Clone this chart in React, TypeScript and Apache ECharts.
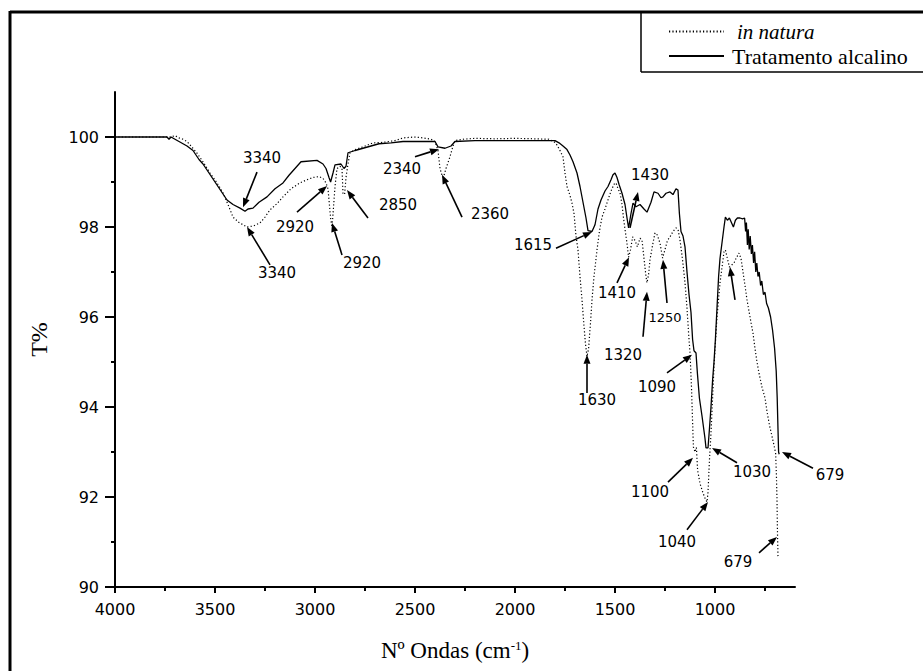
import React, { useEffect, useRef } from "react";
import * as echarts from "echarts";

// ---- Data (wavenumber cm-1, T%) ----
const seriesNames = ["in natura", "Tratamento alcalino"];

const inNatura: [number, number][] = [
  [4000, 100], [3720, 100], [3700, 100.03], [3680, 99.98], [3660, 99.95], [3640, 99.9],
  [3620, 99.8], [3590, 99.64], [3560, 99.45], [3525, 99.2], [3490, 98.98], [3460, 98.76],
  [3435, 98.5], [3410, 98.22], [3380, 98.1], [3340, 98.0], [3310, 98.02], [3275, 98.09],
  [3250, 98.22], [3225, 98.38], [3190, 98.52], [3160, 98.67], [3120, 98.85], [3075, 98.98],
  [3040, 99.05], [3010, 99.1], [2980, 99.12], [2960, 99.08], [2945, 98.98], [2935, 98.85],
  [2928, 98.5], [2922, 98.2], [2915, 98.0], [2908, 98.4], [2900, 98.9], [2890, 99.3],
  [2875, 99.35], [2865, 99.3], [2860, 98.75], [2852, 98.72], [2845, 99.1], [2835, 99.4],
  [2825, 99.65], [2800, 99.72], [2760, 99.78], [2710, 99.87], [2660, 99.88], [2600, 99.92],
  [2560, 99.98], [2500, 100.0], [2460, 99.98], [2420, 99.95], [2400, 99.9], [2385, 99.7],
  [2375, 99.3], [2365, 99.15], [2358, 99.1], [2345, 99.3], [2325, 99.56], [2310, 99.8],
  [2300, 99.92], [2260, 99.95], [2200, 99.97], [2100, 99.96], [2000, 99.97], [1900, 99.96],
  [1830, 99.95], [1800, 99.88], [1790, 99.82], [1775, 99.7], [1760, 99.56], [1750, 99.2],
  [1740, 98.9], [1725, 98.7], [1715, 98.53], [1705, 98.3], [1695, 97.8], [1685, 97.49],
  [1675, 96.9], [1665, 96.38], [1655, 95.8], [1648, 95.42], [1640, 95.12], [1632, 95.3],
  [1622, 95.9], [1615, 96.38], [1605, 96.9], [1590, 97.49], [1578, 97.9], [1565, 98.22],
  [1550, 98.4], [1535, 98.6], [1520, 98.8], [1505, 98.95], [1495, 98.98], [1485, 98.85],
  [1475, 98.76], [1465, 98.5], [1458, 98.22], [1450, 97.95], [1440, 97.64], [1432, 97.33],
  [1422, 97.5], [1412, 97.78], [1400, 97.7], [1388, 97.56], [1375, 97.75], [1365, 97.71],
  [1355, 97.3], [1345, 96.9], [1340, 96.76], [1332, 96.95], [1325, 97.27], [1312, 97.6],
  [1300, 97.87], [1288, 97.82], [1275, 97.64], [1262, 97.31], [1250, 97.5], [1238, 97.7],
  [1225, 97.78], [1210, 97.9], [1195, 97.98], [1185, 97.95], [1175, 97.71], [1163, 97.3],
  [1150, 96.76], [1140, 96.2], [1132, 95.64], [1125, 95.2], [1118, 94.5], [1113, 93.8],
  [1108, 93.11], [1100, 93.0], [1093, 93.1], [1087, 92.6], [1075, 92.3], [1060, 92.09],
  [1048, 91.95], [1040, 91.89], [1035, 92.1], [1028, 92.8], [1020, 93.42], [1012, 94.2],
  [1005, 94.89], [997, 95.5], [990, 96.0], [982, 96.4], [975, 96.76], [965, 97.1],
  [955, 97.45], [948, 97.49], [938, 97.3], [928, 97.11], [918, 97.15], [905, 97.2],
  [895, 97.3], [880, 97.42], [870, 97.3], [860, 97.0], [850, 96.7], [840, 96.38],
  [825, 96.0], [810, 95.64], [800, 95.3], [790, 95.0], [780, 94.75], [765, 94.44],
  [750, 94.2], [740, 93.9], [728, 93.6], [715, 93.35], [705, 93.15], [697, 92.98],
  [693, 92.5], [690, 91.93], [688, 91.3], [685, 90.67],
];

const alcalino: [number, number][] = [
  [4000, 100], [3740, 100], [3730, 99.95], [3720, 100], [3700, 99.95], [3680, 99.9],
  [3660, 99.85], [3640, 99.8], [3610, 99.7], [3580, 99.5], [3560, 99.4], [3530, 99.2],
  [3500, 99.0], [3470, 98.8], [3440, 98.6], [3410, 98.5], [3375, 98.42], [3350, 98.35],
  [3335, 98.4], [3310, 98.42], [3280, 98.55], [3240, 98.67], [3200, 98.85], [3160, 98.98],
  [3130, 99.15], [3100, 99.3], [3070, 99.45], [2990, 99.48], [2960, 99.4], [2945, 99.3],
  [2930, 99.1], [2922, 99.0], [2910, 99.2], [2900, 99.38], [2870, 99.4], [2855, 99.3],
  [2845, 99.35], [2835, 99.65], [2800, 99.7], [2760, 99.75], [2720, 99.8], [2680, 99.85],
  [2620, 99.87], [2560, 99.9], [2400, 99.9], [2385, 99.78], [2350, 99.75], [2320, 99.8],
  [2300, 99.9], [2200, 99.92], [2000, 99.92], [1800, 99.92], [1780, 99.87], [1760, 99.8],
  [1740, 99.72], [1725, 99.6], [1710, 99.45], [1690, 99.2], [1675, 98.9], [1660, 98.55],
  [1645, 98.2], [1635, 97.92], [1615, 97.9], [1600, 98.05], [1585, 98.4], [1570, 98.6],
  [1550, 98.8], [1535, 98.9], [1520, 99.05], [1510, 99.16], [1500, 99.2], [1490, 99.1],
  [1480, 98.95], [1465, 98.75], [1450, 98.5], [1440, 98.2], [1432, 97.98], [1420, 98.3],
  [1410, 98.53], [1395, 98.45], [1375, 98.5], [1355, 98.4], [1340, 98.33], [1320, 98.55],
  [1305, 98.78], [1285, 98.75], [1270, 98.65], [1260, 98.67], [1245, 98.75], [1225, 98.78],
  [1210, 98.72], [1195, 98.85], [1185, 98.82], [1178, 98.3], [1170, 97.9], [1160, 97.8],
  [1150, 97.56], [1140, 97.0], [1130, 96.5], [1120, 96.1], [1112, 95.5], [1105, 95.25],
  [1095, 95.2], [1088, 94.75], [1078, 94.2], [1065, 93.8], [1050, 93.3], [1045, 93.09],
  [1035, 93.09], [1028, 93.5], [1020, 94.0], [1012, 94.6], [1005, 95.0], [998, 95.5],
  [990, 96.2], [982, 96.9], [975, 97.3], [965, 97.65], [955, 98.0], [948, 98.22],
  [938, 98.15], [928, 98.2], [918, 98.1], [908, 98.0], [898, 98.15], [888, 98.2],
  [875, 98.2], [862, 98.18], [852, 98.2], [847, 97.9], [843, 98.1], [838, 97.6],
  [834, 97.95], [829, 97.5], [824, 97.8], [818, 97.4], [813, 97.6], [807, 97.2],
  [802, 97.45], [796, 97.0], [791, 97.2], [785, 96.9], [779, 97.0], [772, 96.7],
  [766, 96.8], [758, 96.5], [750, 96.55], [742, 96.3], [733, 96.2], [722, 96.0],
  [712, 95.7], [702, 95.3], [694, 94.8], [689, 94.2], [685, 93.5], [682, 93.0],
  [679, 92.95],
];

// ---- Axis ticks ----
const xMajorTicks = [4000, 3500, 3000, 2500, 2000, 1500, 1000];
const xMinorTicks = [3750, 3250, 2750, 2250, 1750, 1250, 750];
const yMajorTicks = [90, 92, 94, 96, 98, 100];
const yMinorTicks = [91, 93, 95, 97, 99];

// ---- Peak annotations (data coordinates) ----
const peakLabels: { t: string; x: number; y: number; small?: boolean }[] = [
  { t: "3340", x: 3265, y: 99.53 },
  { t: "3340", x: 3190, y: 96.98 },
  { t: "2920", x: 3100, y: 98.0 },
  { t: "2920", x: 2765, y: 97.2 },
  { t: "2850", x: 2585, y: 98.49 },
  { t: "2340", x: 2565, y: 99.29 },
  { t: "2360", x: 2125, y: 98.29 },
  { t: "1615", x: 1910, y: 97.6 },
  { t: "1430", x: 1325, y: 99.16 },
  { t: "1410", x: 1490, y: 96.53 },
  { t: "1320", x: 1460, y: 95.16 },
  { t: "1250", x: 1250, y: 96.0, small: true },
  { t: "1630", x: 1590, y: 94.16 },
  { t: "1090", x: 1290, y: 94.44 },
  { t: "1100", x: 1325, y: 92.11 },
  { t: "1030", x: 815, y: 92.56 },
  { t: "679", x: 425, y: 92.49 },
  { t: "1040", x: 1190, y: 91.0 },
  { t: "679", x: 885, y: 90.56 },
];

const peakArrows: [number, number, number, number][] = [
  [3290, 99.22, 3360, 98.44],
  [3225, 97.16, 3340, 98.0],
  [3090, 98.33, 2940, 98.91],
  [2865, 97.38, 2915, 98.09],
  [2735, 98.2, 2840, 98.82],
  [2500, 99.56, 2380, 99.73],
  [2265, 98.22, 2365, 99.16],
  [1795, 97.53, 1615, 97.89],
  [1425, 97.98, 1385, 98.78],
  [1490, 96.76, 1430, 97.33],
  [1360, 95.56, 1340, 96.56],
  [1240, 96.31, 1260, 97.27],
  [1640, 94.31, 1640, 95.16],
  [1240, 94.76, 1115, 95.16],
  [1235, 92.33, 1110, 92.87],
  [890, 92.76, 1015, 93.09],
  [510, 92.64, 665, 93.0],
  [1140, 91.27, 1035, 91.89],
  [780, 90.76, 690, 91.11],
  [900, 96.38, 925, 97.11],
];

const SANS = "DejaVu Sans";
const SERIF = "Liberation Serif";

export default function App() {
  const ref = useRef<HTMLDivElement>(null);

  useEffect(() => {
    if (!ref.current) return;
    const chart = echarts.init(ref.current, undefined, { renderer: "svg" });

    const xBase = {
      type: "value" as const,
      min: 600,
      max: 4000,
      inverse: true,
      position: "bottom" as const,
      splitLine: { show: false },
    };
    const yBase = {
      type: "value" as const,
      min: 90,
      max: 101,
      position: "left" as const,
      splitLine: { show: false },
    };

    chart.setOption({
      animation: false,
      backgroundColor: "#ffffff",
      grid: { left: 115, right: 128, top: 92, bottom: 84, containLabel: false },
      legend: {
        data: seriesNames,
        orient: "vertical",
        left: 663,
        top: 16,
        itemWidth: 55,
        itemHeight: 20,
        itemGap: 3,
        selectedMode: false,
        itemStyle: { opacity: 0 },
        formatter: (n: string) => (n === "in natura" ? "{i|in natura}" : "{n|" + n + "}"),
        textStyle: {
          fontFamily: SERIF,
          fontSize: 22,
          color: "#000",
          rich: {
            i: { fontFamily: SERIF, fontSize: 21, fontStyle: "italic", color: "#000", padding: [0, 0, 0, 8] },
            n: { fontFamily: SERIF, fontSize: 22, color: "#000", padding: [0, 0, 0, 3] },
          },
        },
      },
      xAxis: [
        {
          ...xBase,
          name: "{a|Nº Ondas (cm}{s|-1}{a|)}",
          nameLocation: "middle",
          nameGap: 52,
          nameTextStyle: {
            fontFamily: SERIF,
            fontSize: 23,
            color: "#000",
            rich: {
              a: { fontFamily: SERIF, fontSize: 23, color: "#000" },
              s: { fontFamily: SERIF, fontSize: 13, color: "#000", verticalAlign: "top" },
            },
          },
          axisLine: { show: true, onZero: false, lineStyle: { color: "#000", width: 2 } },
          axisTick: { show: true, customValues: xMajorTicks, length: 6, inside: false, lineStyle: { color: "#000", width: 2 } },
          axisLabel: {
            customValues: xMajorTicks,
            formatter: (v: number) => String(v),
            margin: 14,
            fontFamily: SANS,
            fontSize: 16,
            color: "#000",
          },
        },
        {
          ...xBase,
          axisLine: { show: false },
          axisTick: { show: true, customValues: xMinorTicks, length: 4, lineStyle: { color: "#000", width: 2 } },
          axisLabel: { show: false },
        },
      ],
      yAxis: [
        {
          ...yBase,
          name: "T%",
          nameLocation: "middle",
          nameGap: 64,
          nameRotate: 90,
          nameTextStyle: { fontFamily: SERIF, fontSize: 24, color: "#000" },
          axisLine: { show: true, onZero: false, lineStyle: { color: "#000", width: 2 } },
          axisTick: { show: true, customValues: yMajorTicks, length: 10, lineStyle: { color: "#000", width: 2 } },
          axisLabel: {
            customValues: yMajorTicks,
            formatter: (v: number) => String(v),
            margin: 16,
            fontFamily: SANS,
            fontSize: 16,
            color: "#000",
          },
        },
        {
          ...yBase,
          axisLine: { show: false },
          axisTick: { show: true, customValues: yMinorTicks, length: 4, lineStyle: { color: "#000", width: 2 } },
          axisLabel: { show: false },
        },
      ],
      series: [
        {
          name: seriesNames[0],
          type: "line",
          data: inNatura,
          symbol: "none",
          lineStyle: { color: "#000", width: 1.2, type: [1.2, 2.2] },
          itemStyle: { color: "#000" },
          z: 2,
        },
        {
          name: seriesNames[1],
          type: "line",
          data: alcalino,
          symbol: "none",
          lineStyle: { color: "#000", width: 1.3, type: "solid" },
          itemStyle: { color: "#000" },
          z: 3,
        },
      ],
    });

    const px = (x: number, y: number) =>
      chart.convertToPixel({ xAxisIndex: 0, yAxisIndex: 0 }, [x, y]) as number[];

    const graphics: any[] = [];
    // outer frame (top and left) and legend box
    graphics.push({ type: "line", shape: { x1: 10, y1: 12, x2: 923, y2: 12 }, style: { stroke: "#000", lineWidth: 3 } });
    graphics.push({ type: "line", shape: { x1: 10, y1: 11, x2: 10, y2: 671 }, style: { stroke: "#000", lineWidth: 3 } });
    graphics.push({ type: "line", shape: { x1: 641, y1: 12, x2: 641, y2: 72 }, style: { stroke: "#000", lineWidth: 1.5 } });
    graphics.push({ type: "line", shape: { x1: 641, y1: 72, x2: 923, y2: 72 }, style: { stroke: "#000", lineWidth: 1.5 } });

    peakLabels.forEach((l) => {
      const [x, y] = px(l.x, l.y);
      graphics.push({
        type: "text",
        x,
        y,
        style: {
          text: l.t,
          fontFamily: SANS,
          fontSize: l.small ? 13 : 15,
          fill: "#000",
          align: "center",
          verticalAlign: "middle",
        },
      });
    });

    peakArrows.forEach((a) => {
      const [x1, y1] = px(a[0], a[1]);
      const [x2, y2] = px(a[2], a[3]);
      const dx = x2 - x1;
      const dy = y2 - y1;
      const len = Math.sqrt(dx * dx + dy * dy) || 1;
      const ux = dx / len;
      const uy = dy / len;
      const hl = 9;
      const hw = 3.5;
      const bx = x2 - ux * hl;
      const by = y2 - uy * hl;
      graphics.push({
        type: "line",
        shape: { x1, y1, x2: bx, y2: by },
        style: { stroke: "#000", lineWidth: 1.6 },
      });
      graphics.push({
        type: "polygon",
        shape: {
          points: [
            [x2, y2],
            [bx - uy * hw, by + ux * hw],
            [bx + uy * hw, by - ux * hw],
          ],
        },
        style: { fill: "#000" },
      });
    });

    chart.setOption({ graphic: graphics });

    return () => chart.dispose();
  }, []);

  return (
    <div
      ref={ref}
      style={{ position: "fixed", left: 0, top: 0, width: 923, height: 671, background: "#fff" }}
    />
  );
}
